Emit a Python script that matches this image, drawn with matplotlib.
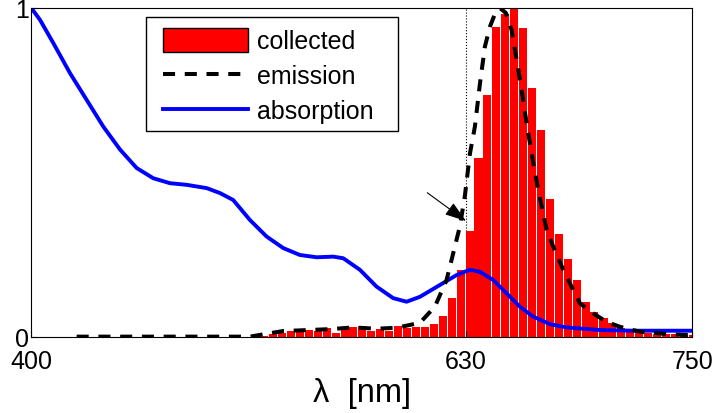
import matplotlib
matplotlib.use('Agg')
import matplotlib.pyplot as plt
from matplotlib.patches import Patch, Rectangle
from matplotlib.lines import Line2D

plt.rcParams['font.family'] = ['Liberation Sans', 'DejaVu Sans']

# collected spectrum (histogram bins, nm) and normalised counts
bin_centers = [471.3, 476.0, 480.7, 485.5, 490.2, 494.9, 499.7, 504.4, 509.1, 513.9,
               518.6, 523.3, 528.1, 532.8, 537.5, 542.2, 547.0, 551.7, 556.4, 561.2,
               565.9, 570.6, 575.3, 580.1, 584.8, 589.5, 594.2, 599.0, 603.7, 608.4,
               613.1, 617.9, 622.6, 627.3, 632.1, 636.8, 641.5, 646.2, 651.0, 655.7,
               660.4, 665.1, 669.9, 674.6, 679.3, 684.1, 688.8, 693.5, 698.2, 703.0,
               707.7, 712.4, 717.1, 721.9, 726.6, 731.3, 736.1, 740.8, 745.5, 750.2]
collected = [0.001, 0.001, 0.001, 0.001, 0.001, 0.001, 0.001, 0.001, 0.001, 0.002,
             0.002, 0.004, 0.009, 0.012, 0.018, 0.022, 0.022, 0.020, 0.028, 0.014,
             0.027, 0.032, 0.034, 0.020, 0.024, 0.019, 0.034, 0.028, 0.030, 0.032,
             0.040, 0.066, 0.119, 0.204, 0.324, 0.543, 0.735, 0.943, 0.982, 1.000,
             0.939, 0.758, 0.630, 0.419, 0.313, 0.239, 0.175, 0.108, 0.076, 0.059,
             0.044, 0.028, 0.023, 0.018, 0.014, 0.011, 0.011, 0.009, 0.007, 0.006]
bin_width = 4.25

# emission spectrum
em_wl = [424.0, 515.8, 522.8, 533.3, 546.6, 559.0, 570.5, 582.8, 593.4, 605.8,
         613.7, 619.9, 623.4, 626.9, 629.6, 632.3, 634.9, 637.6, 640.2, 642.9,
         646.4, 648.1, 651.3, 654.3, 657.0, 659.6, 662.3, 664.9, 668.4, 672.9,
         676.4, 681.7, 685.2, 690.5, 697.5, 704.6, 711.6, 722.2, 736.4, 747.0, 750.0]
em_val = [0.002, 0.002, 0.009, 0.019, 0.022, 0.025, 0.030, 0.026, 0.029, 0.044,
          0.093, 0.174, 0.255, 0.336, 0.430, 0.559, 0.640, 0.772, 0.883, 0.944,
          0.995, 1.000, 0.985, 0.934, 0.843, 0.752, 0.650, 0.559, 0.448, 0.326,
          0.275, 0.205, 0.164, 0.103, 0.073, 0.047, 0.032, 0.017, 0.010, 0.007, 0.006]

# absorption spectrum
ab_wl = [400.0, 404.6, 411.6, 420.5, 429.3, 438.1, 447.0, 455.8, 464.6, 473.4,
         482.3, 492.9, 499.9, 506.9, 515.8, 524.6, 533.4, 542.2, 551.1, 559.9,
         565.2, 574.0, 582.8, 591.6, 598.7, 605.8, 616.4, 625.2, 632.2, 637.5,
         644.6, 651.6, 658.7, 665.7, 674.6, 683.4, 701.0, 718.7, 750.0]
ab_val = [1.000, 0.964, 0.894, 0.802, 0.721, 0.640, 0.570, 0.514, 0.483, 0.468,
          0.463, 0.453, 0.438, 0.417, 0.356, 0.306, 0.271, 0.250, 0.243, 0.245,
          0.240, 0.205, 0.154, 0.119, 0.108, 0.123, 0.159, 0.189, 0.205, 0.199,
          0.174, 0.134, 0.093, 0.063, 0.040, 0.030, 0.022, 0.020, 0.020]

fig = plt.figure(figsize=(7.15, 4.13), dpi=100)
ax = fig.add_axes([0.0438, 0.1833, 0.9244, 0.7973])

ax.axvline(630, color='black', linestyle=':', linewidth=0.8, zorder=0.5)
ax.bar(bin_centers, collected, width=bin_width, color='red', linewidth=0, zorder=1)
ax.plot(ab_wl, ab_val, color='blue', linewidth=2.8, zorder=2)
ax.plot(em_wl, em_val, color='black', linestyle=(0, (3, 2.4)), linewidth=2.9, zorder=3)

ax.annotate('', xy=(630.2, 0.353), xytext=(609.7, 0.439),
            arrowprops=dict(arrowstyle='-|>,head_length=0.6,head_width=0.2',
                            color='black', lw=0.8, mutation_scale=22,
                            shrinkA=0, shrinkB=0), zorder=4)

ax.set_xlim(400, 750)
ax.set_ylim(0, 1)
ax.set_xticks([400, 630, 750])
ax.set_yticks([0, 1])
ax.tick_params(direction='in', length=4, labelsize=18)
ax.tick_params(axis='x', pad=9)
ax.tick_params(axis='y', pad=2)
ax.set_xlabel('λ  [nm]', fontsize=23.5, labelpad=3)

# legend box drawn by hand (MATLAB-style wide frame)
ax.add_patch(Rectangle((0.1735, 0.627), 0.3815, 0.346, transform=ax.transAxes,
                       facecolor='white', edgecolor='black', linewidth=1.0, zorder=5))
handles = [Patch(facecolor='red', edgecolor='black', linewidth=1),
           Line2D([], [], color='black', linestyle=(0, (3, 2.4)), linewidth=2.9),
           Line2D([], [], color='blue', linewidth=2.8)]
leg = ax.legend(handles, ['collected', 'emission', 'absorption'],
                loc='upper left', bbox_to_anchor=(0.199, 0.938), fontsize=18,
                frameon=False, handlelength=3.4, handleheight=1.05,
                handletextpad=0.35, labelspacing=0.4, borderpad=0, borderaxespad=0)
leg.set_zorder(6)

fig.savefig('out.png', dpi=100)
